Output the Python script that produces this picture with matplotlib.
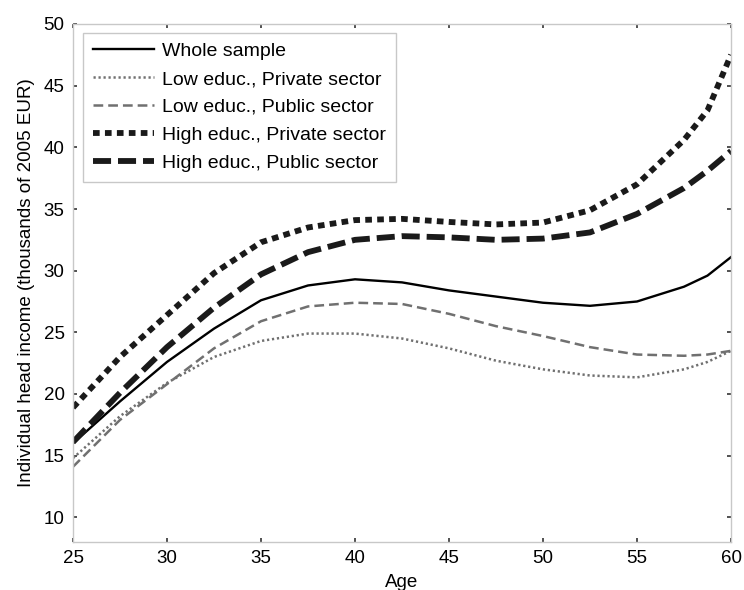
import numpy as np
import matplotlib
matplotlib.use("Agg")
import matplotlib.pyplot as plt

plt.rcParams['font.family'] = ['Liberation Sans', 'DejaVu Sans']
plt.rcParams['lines.scale_dashes'] = False

# values (thousands of 2005 EUR)
ages = [25, 27.5, 30, 32.5, 35, 37.5, 40, 42.5, 45, 47.5, 50, 52.5, 55, 57.5, 58.75, 60]
whole = [16.0, 19.4, 22.6, 25.3, 27.6, 28.8, 29.3, 29.05, 28.4, 27.9, 27.4, 27.15, 27.5, 28.7, 29.6, 31.1]
low_priv = [14.8, 18.2, 20.9, 23.0, 24.3, 24.9, 24.9, 24.5, 23.7, 22.7, 22.0, 21.5, 21.35, 22.0, 22.6, 23.5]
low_pub = [14.1, 17.9, 20.8, 23.7, 25.9, 27.1, 27.4, 27.3, 26.5, 25.5, 24.7, 23.8, 23.2, 23.1, 23.2, 23.5]
hi_priv = [18.9, 23.0, 26.4, 29.8, 32.3, 33.5, 34.1, 34.2, 33.95, 33.75, 33.9, 34.9, 37.0, 40.6, 43.0, 47.5]
hi_pub = [16.1, 20.1, 23.8, 27.0, 29.7, 31.5, 32.5, 32.8, 32.7, 32.5, 32.6, 33.1, 34.6, 36.7, 38.1, 39.7]

labels = ['Whole sample', 'Low educ., Private sector', 'Low educ., Public sector',
          'High educ., Private sector', 'High educ., Public sector']
xticks = [25, 30, 35, 40, 45, 50, 55, 60]
yticks = [10, 15, 20, 25, 30, 35, 40, 45, 50]

fig = plt.figure(figsize=(7.44, 5.9), dpi=100)
ax = fig.add_axes([73 / 744, 48 / 590, 658 / 744, 518 / 590])

ax.plot(ages, whole, color='black', lw=1.7, label=labels[0])
ax.plot(ages, low_priv, color='#707070', lw=1.8, linestyle=(0, (1.6, 2.0)), label=labels[1])
ax.plot(ages, low_pub, color='#707070', lw=1.8, linestyle=(0, (7.0, 3.6)), label=labels[2])
ax.plot(ages, hi_priv, color='#1a1a1a', lw=4.2, linestyle=(0, (4.8, 3.8)), label=labels[3])
ax.plot(ages, hi_pub, color='#1a1a1a', lw=4.2, linestyle=(0, (13.0, 5.0)), label=labels[4])

ax.set_xlim(25, 60)
ax.set_ylim(8, 50)
ax.set_xticks(xticks)
ax.set_yticks(yticks)
for s in ax.spines.values():
    s.set_color('#c8c8c8')
    s.set_linewidth(1.0)
ax.tick_params(direction='in', length=3, width=1.2, color='#333333', top=True, right=True,
               labelsize=13.5, pad=6)

ax.set_xlabel('Age', fontsize=13.5, labelpad=5)
ax.set_ylabel('Individual head income (thousands of 2005 EUR)', fontsize=13.5, labelpad=6)

leg = ax.legend(loc='upper left', bbox_to_anchor=(0.015, 0.983), fontsize=14,
                handlelength=3.15, handletextpad=0.42, labelspacing=0.53,
                borderpad=0.5, borderaxespad=0, fancybox=False, framealpha=1)
leg.get_frame().set_edgecolor('#c8c8c8')
leg.get_frame().set_linewidth(1.0)

fig.savefig('out.png', dpi=100)
